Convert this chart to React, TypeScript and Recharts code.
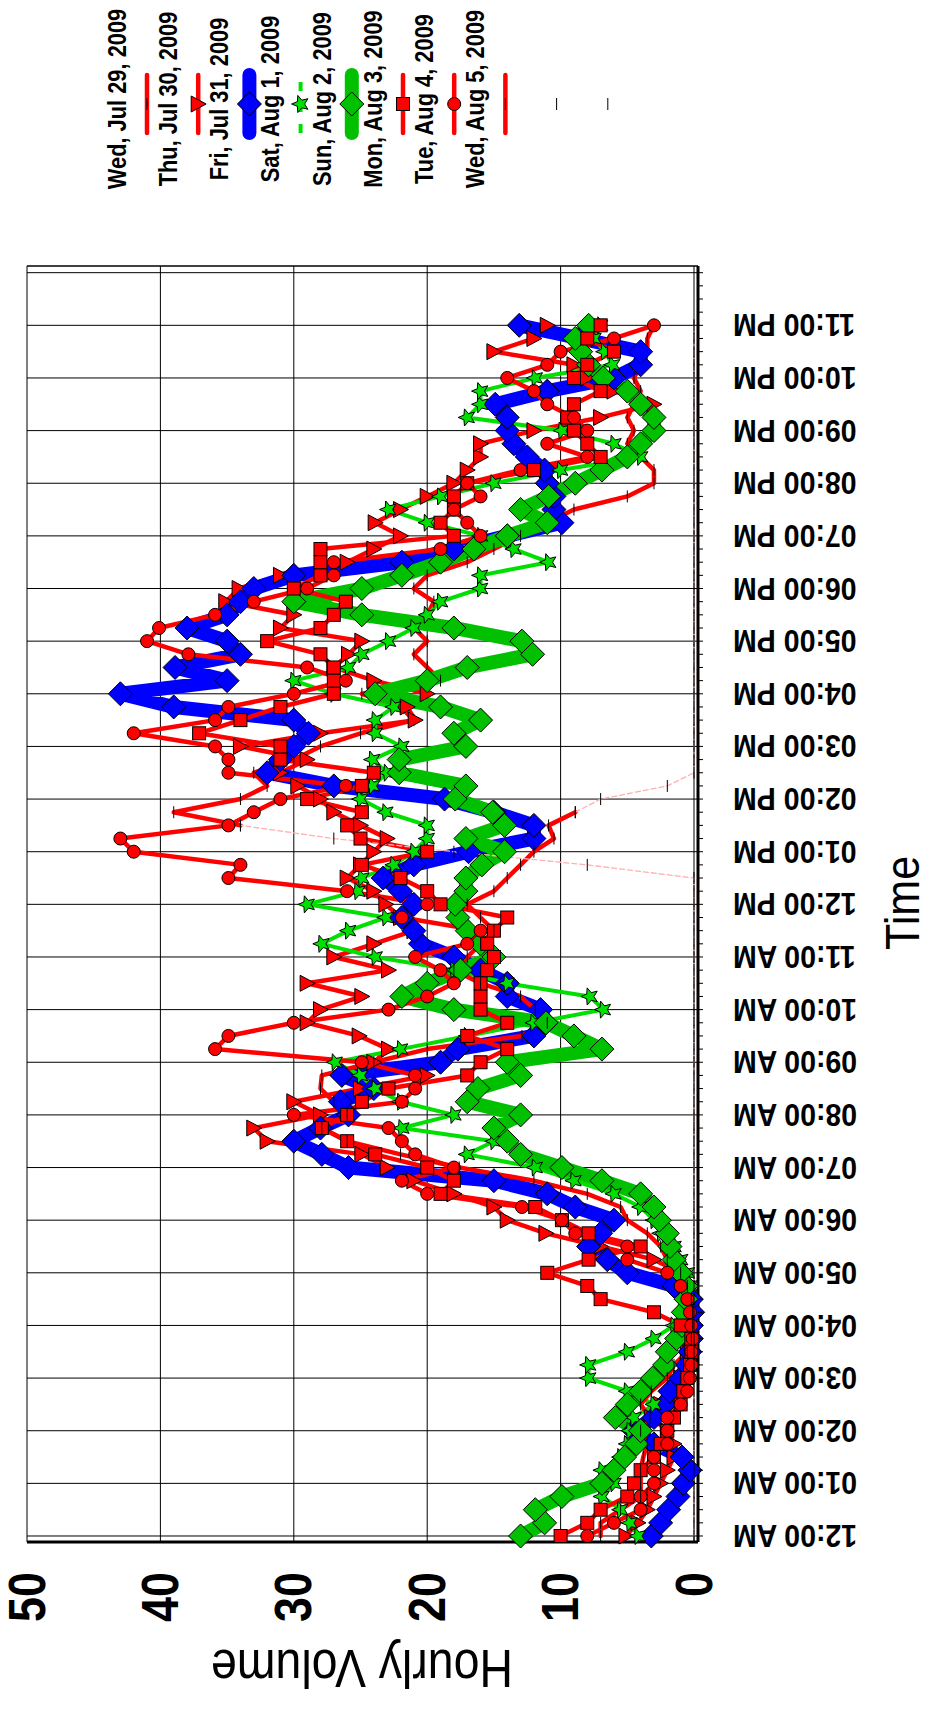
import React from "react";
import { CartesianGrid, Line, LineChart, ReferenceLine, XAxis, YAxis } from "recharts";

const FONT = "'Liberation Sans', Arial, Helvetica, sans-serif";

// readings every 15 minutes, 12:00 AM .. 11:00 PM
const quarterHours = Array.from({ length: 93 }, (_, i) => i / 4);
const axisTicks = Array.from({ length: 97 }, (_, i) => i / 4);
const hourLines = [0, 1, 2, 3, 4, 5, 6, 7, 8, 9, 10, 11, 12, 13, 14, 15, 16, 17, 18, 19, 20, 21, 22, 23, 24];
const hourLabels = [
  "12:00 AM", "01:00 AM", "02:00 AM", "03:00 AM", "04:00 AM", "05:00 AM",
  "06:00 AM", "07:00 AM", "08:00 AM", "09:00 AM", "10:00 AM", "11:00 AM",
  "12:00 PM", "01:00 PM", "02:00 PM", "03:00 PM", "04:00 PM", "05:00 PM",
  "06:00 PM", "07:00 PM", "08:00 PM", "09:00 PM", "10:00 PM", "11:00 PM",
];
const valueTicks = [0, 10, 20, 30, 40, 50];
const dayNames = [
  "Wed, Jul 29, 2009", "Thu, Jul 30, 2009", "Fri, Jul 31, 2009", "Sat, Aug 1, 2009",
  "Sun, Aug 2, 2009", "Mon, Aug 3, 2009", "Tue, Aug 4, 2009", "Wed, Aug 5, 2009",
];

const gap = (n: number) => Array<number | null>(n).fill(null);

const wedJul29 = [
  ...gap(54),
  34.0, 39.0,
  34.0, 32.0, 33.0, 30.0,
  28.0, 25.0, 21.0, 22.0,
  24.9, 19.0, 20.0, 21.0,
  20.0, 21.0, 20.0, 19.5,
  21.0, 20.0, 17.0, 15.0,
  13.0, 11.0, 9.0, 5.0,
  3.0, 3.0, 4.0, 5.0,
  4.5, 5.0, 4.5, 4.0,
  4.5, 4.0, 3.5, 3.5,
  3.0,
];

const thuJul30 = [
  5.1, 4.2, 3.5, 3.0,
  2.5, 2.0, 1.5, 1.5,
  2.0, 3.2, 2.5, 1.5,
  1.0, 0.5, 0.5, 0.3,
  0.2, 0.2, 0.3, 0.5,
  1.0, 3.0, 7.0, 11.1,
  14.0, 15.0, 18.0, 21.0,
  23.0, 24.9, 32.0, 33.0,
  28.0, 30.0, 25.0, 20.0,
  24.0, 22.9, 25.1, 29.0,
  28.0, 24.9, 29.0, 22.9,
  27.0, 24.0, 21.0, 22.0,
  23.1, 24.0, 26.0, 25.0,
  24.0, 23.0, 25.0, 27.0,
  28.0, 29.7, 31.0, 29.0,
  34.0, 28.0, 20.9, 21.5,
  20.0, 24.0, 27.0, 25.9,
  24.9, 31.0, 30.0, 35.1,
  34.1, 31.0, 26.0, 24.0,
  22.0, 23.9, 22.0, 20.0,
  18.0, 17.0, 16.0, 16.0,
  12.0, 7.0, 3.0, 6.0,
  8.0, 9.0, 15.0, 12.0,
  11.0,
];

const friJul31 = [
  3.2, 2.5, 1.9, 1.2,
  0.8, 0.3, 0.9, 3.0,
  4.5, 3.0, 2.2, 1.8,
  1.0, 0.5, 0.3, 0.2,
  0.2, 0.1, 0.2, 1.5,
  5.0, 6.5, 7.9, 7.0,
  6.0, 8.9, 11.0, 15.0,
  25.9, 27.9, 30.0, 28.0,
  25.9, 26.5, 24.0, 26.4,
  19.0, 17.7, 12.0, 11.1,
  11.5, 14.0, 14.0, 16.0,
  18.0, 20.5, 21.0, 21.9,
  21.0, 22.0, 23.3, 21.0,
  16.9, 12.0, 12.0, 15.0,
  18.7, 27.0, 32.0, 31.0,
  30.0, 28.9, 30.0, 39.0,
  43.0, 35.0, 38.9, 34.0,
  35.0, 38.0, 35.0, 34.0,
  33.0, 30.0, 21.9, 18.0,
  14.0, 9.9, 10.5, 10.5,
  11.0, 11.2, 12.5, 13.5,
  14.0, 14.0, 14.9, 11.0,
  6.0, 4.0, 4.0, 8.5,
  13.1,
];

const satAug1 = [
  4.2, 4.8, 5.5, 6.9,
  6.0, 6.9, 5.5, 5.0,
  4.8, 4.5, 3.0, 5.0,
  7.9, 7.9, 5.0, 3.0,
  1.5, 0.8, 0.5, 0.3,
  0.5, 1.0, 1.5, 2.5,
  3.0, 4.0, 6.0, 9.0,
  11.9, 17.0, 15.0, 21.9,
  18.0, 22.0, 23.9, 25.0,
  26.9, 22.0, 17.0, 12.0,
  6.8, 7.8, 14.0, 18.0,
  23.9, 27.9, 25.9, 23.1,
  29.0, 25.2, 24.9, 22.5,
  21.0, 20.0, 20.0, 23.1,
  25.0, 24.1, 23.0, 24.1,
  21.9, 23.9, 23.9, 22.5,
  27.0, 30.0, 25.9, 24.9,
  22.9, 21.0, 20.0, 19.0,
  16.0, 16.0, 10.9, 13.5,
  16.0, 20.0, 22.9, 19.0,
  15.0, 10.0, 4.0, 6.0,
  9.9, 17.0, 16.0, 16.0,
  11.9, 6.1, 6.7, 7.5,
  7.0,
];

const sunAug2 = [
  13.0, 11.2, 11.9, 9.9,
  6.9, 6.0, 5.2, 4.3,
  4.0, 5.9, 5.0, 4.0,
  3.1, 2.2, 2.0, 1.3,
  0.9, 0.8, 0.6, 0.6,
  1.0, 1.5, 1.8, 2.0,
  2.6, 3.0, 4.0, 6.9,
  9.9, 13.0, 14.0, 15.0,
  13.0, 17.0, 16.2, 13.0,
  14.0, 6.9, 9.0, 11.1,
  18.0, 21.9, 20.0, 17.5,
  15.0, 16.0, 17.0, 17.7,
  17.9, 17.1, 17.1, 15.9,
  14.2, 17.1, 14.2, 15.1,
  17.9, 17.1, 22.1, 22.1,
  17.1, 18.0, 16.0, 19.0,
  23.9, 20.0, 17.0, 12.1,
  12.9, 18.0, 24.9, 30.0,
  24.9, 21.9, 19.0, 16.5,
  14.0, 11.0, 13.0, 10.9,
  8.9, 6.9, 5.0, 4.0,
  3.0, 3.0, 4.0, 5.0,
  6.8, 7.9, 8.5, 8.9,
  7.9,
];

const monAug3 = [
  10.0, 8.0, 7.0, 5.0,
  4.5, 4.0, 3.0, 2.5,
  2.0, 1.5, 1.0, 0.8,
  0.5, 0.3, 0.2, 0.2,
  1.0, 3.0, 7.0, 8.0,
  11.0, 7.9, 4.0, 7.9,
  9.9, 11.9, 19.0, 18.0,
  20.0, 23.9, 26.0, 27.9,
  26.0, 24.9, 22.9, 17.0,
  16.0, 14.0, 17.0, 14.0,
  16.0, 16.0, 16.0, 15.5,
  15.0, 15.5, 15.0, 14.0,
  19.0, 20.0, 22.0, 24.9,
  20.0, 25.0, 26.0, 24.9,
  29.0, 24.9, 24.0, 31.0,
  31.0, 37.1, 34.0, 31.0,
  27.0, 27.0, 27.0, 28.0,
  32.0, 28.0, 27.0, 26.1,
  30.0, 28.0, 28.0, 28.0,
  18.0, 19.0, 18.0, 18.0,
  17.0, 12.0, 7.0, 8.0,
  9.0, 9.5, 9.0, 7.0,
  9.0, 8.0, 6.0, 8.0,
  7.0,
];

const tueAug4 = [
  8.0, 6.0, 4.0, 4.0,
  3.0, 3.0, 3.0, 2.0,
  2.0, 2.0, 1.0, 0.5,
  0.3, 0.2, 0.2, 0.1,
  0.2, 0.3, 0.5, 1.0,
  2.0, 5.0, 5.0, 8.9,
  9.9, 12.9, 20.0, 21.9,
  18.0, 20.9, 21.9, 22.9,
  30.0, 21.9, 20.9, 20.9,
  24.9, 35.9, 34.9, 30.0,
  22.9, 20.0, 18.0, 19.0,
  20.9, 17.0, 16.0, 21.9,
  20.0, 26.0, 34.9, 34.0,
  42.0, 43.0, 34.9, 33.0,
  31.0, 26.1, 34.9, 34.9,
  35.9, 42.0, 35.9, 34.9,
  30.0, 26.1, 29.0, 37.9,
  41.0, 40.1, 35.9, 33.0,
  29.0, 27.0, 27.0, 19.0,
  16.0, 17.0, 18.0, 16.0,
  17.0, 13.0, 8.0, 11.0,
  8.0, 9.0, 11.0, 12.0,
  14.0, 11.0, 10.0, 6.0,
  3.0,
];

const wedAug5 = [
  7.0, 7.0, 5.5, 4.0,
  4.0, 4.0, 3.8, 3.5,
  4.0, 3.3, 4.0, 3.2,
  2.0, 1.5, 0.5, 0.2,
  0.1, 0.1, 0.2, 0.5,
  1.0, 2.0, 2.5, 3.5,
  5.0, 5.5, 8.0, 12.0,
  17.6, 22.0, 26.0, 27.9,
  26.0, 27.0, 28.0, 27.9,
  24.0, 20.0, 12.9, 11.0,
  11.9, 13.0, 16.0, 18.0,
  17.0, 16.0, 15.0, 16.0,
  17.0, 15.0, 14.0, 13.0,
  12.0, 10.5, 10.9, 8.9,
  ...gap(37),
];

// the two unnamed traces (faint pink)
const tailAug5 = [
  ...gap(55),
  8.9, 7.0, 2.0,
  0, 0, 0, 0, 0, 0, 0, 0, 0, 0, 0, 0, 0, 0, 0, 0, 0, 0,
  0, 0, 0, 0, 0, 0, 0, 0, 0, 0, 0, 0, 0, 0, 0, 0, 0,
];
const headJul29 = [
  0, 0, 0, 0, 0, 0, 0, 0, 0, 0, 0, 0, 0, 0, 0, 0, 0, 0, 0, 0,
  0, 0, 0, 0, 0, 0, 0, 0, 0, 0, 0, 0, 0, 0, 0, 0, 0, 0, 0, 0,
  0, 0, 0, 0, 0, 0, 0, 0, 0, 0, 0,
  8.0, 18.0, 27.0, 34.0,
  ...gap(38),
];

const rows = quarterHours.map((t, i) => ({
  t,
  wedJul29: wedJul29[i],
  thuJul30: thuJul30[i],
  friJul31: friJul31[i],
  satAug1: satAug1[i],
  sunAug2: sunAug2[i],
  monAug3: monAug3[i],
  tueAug4: tueAug4[i],
  wedAug5: wedAug5[i],
  tailAug5: tailAug5[i],
  headJul29: headJul29[i],
}));

type MarkerKind = "dash" | "triangle" | "diamond" | "star" | "square" | "circle";

type SeriesStyle = {
  key: string;
  name: string;
  color: string;
  width: number;
  marker: MarkerKind;
  legendLine: boolean;
  legendDash?: string;
  lineDash?: string;
};

const RED = "#ff0000";
const series: SeriesStyle[] = [
  { key: "wedJul29", name: dayNames[0], color: RED, width: 4.5, marker: "dash", legendLine: true },
  { key: "thuJul30", name: dayNames[1], color: RED, width: 4.5, marker: "triangle", legendLine: true },
  { key: "friJul31", name: dayNames[2], color: "#0000ff", width: 14, marker: "diamond", legendLine: true },
  { key: "satAug1", name: dayNames[3], color: "#00e000", width: 4, marker: "star", legendLine: true, legendDash: "9 12" },
  { key: "sunAug2", name: dayNames[4], color: "#00c000", width: 14, marker: "diamond", legendLine: true },
  { key: "monAug3", name: dayNames[5], color: RED, width: 4.5, marker: "square", legendLine: true },
  { key: "tueAug4", name: dayNames[6], color: RED, width: 4.5, marker: "circle", legendLine: true },
  { key: "wedAug5", name: dayNames[7], color: RED, width: 4.5, marker: "dash", legendLine: true },
  { key: "tailAug5", name: "", color: "#ffb0b0", width: 1.3, marker: "dash", legendLine: false, lineDash: "5 3" },
  { key: "headJul29", name: "", color: "#ffb0b0", width: 1.3, marker: "dash", legendLine: false, lineDash: "5 3" },
];

function starPoints(x: number, y: number, ro: number, ri: number) {
  const pts: string[] = [];
  for (let i = 0; i < 10; i++) {
    const r = i % 2 === 0 ? ro : ri;
    const a = -Math.PI / 2 + (i * Math.PI) / 5;
    pts.push(`${x + r * Math.cos(a)},${y + r * Math.sin(a)}`);
  }
  return pts.join(" ");
}

function Marker({ kind, x, y, fill }: { kind: MarkerKind; x: number; y: number; fill: string }) {
  const edge = { stroke: "#000", strokeWidth: 1 };
  switch (kind) {
    case "diamond":
      return <polygon points={`${x},${y - 12} ${x + 12},${y} ${x},${y + 12} ${x - 12},${y}`} fill={fill} {...edge} />;
    case "triangle":
      return <polygon points={`${x - 8},${y - 7} ${x + 8},${y - 7} ${x},${y + 8}`} fill={fill} {...edge} />;
    case "square":
      return <rect x={x - 6.5} y={y - 6.5} width={13} height={13} fill={fill} {...edge} />;
    case "circle":
      return <circle cx={x} cy={y} r={6.5} fill={fill} {...edge} />;
    case "star":
      return <polygon points={starPoints(x, y, 9, 4)} fill={fill} {...edge} />;
    default:
      return <line x1={x - 6} x2={x + 6} y1={y} y2={y} stroke="#000" strokeWidth={1} />;
  }
}

const makeDot = (s: SeriesStyle) => (p: any) => {
  if (p.value == null || p.cx == null || p.cy == null) return <g key={`${s.key}-${p.index}`} />;
  return (
    <g key={`${s.key}-${p.index}`}>
      <Marker kind={s.marker} x={p.cx} y={p.cy} fill={s.color} />
    </g>
  );
};

// the reference lettering is narrower than Arial, so squeeze it along the reading direction
function NarrowText(props: {
  x: number;
  y: number;
  angle?: number;
  squeeze: number;
  anchor: "start" | "middle" | "end";
  size: number;
  weight?: number;
  children: React.ReactNode;
}) {
  const { x, y, angle = 0, squeeze, anchor, size, weight = 400, children } = props;
  return (
    <text
      transform={`translate(${x} ${y}) rotate(${angle}) scale(${squeeze} 1)`}
      textAnchor={anchor}
      dominantBaseline="central"
      fontSize={size}
      fontWeight={weight}
      fontFamily={FONT}
      fill="#000"
    >
      {children}
    </text>
  );
}

function TimeTick(props: any) {
  const { x, y, payload } = props;
  const v = payload.value as number;
  const whole = Math.abs(v - Math.round(v)) < 1e-6;
  const label = whole && v < 24 ? hourLabels[Math.round(v)] : null;
  return (
    <g>
      <line x1={x} x2={x} y1={y} y2={y + 5} stroke="#000" strokeWidth={1} />
      {label && (
        <NarrowText x={x} y={y + 35} angle={-90} squeeze={0.92} anchor="end" size={31} weight={700}>
          {label}
        </NarrowText>
      )}
    </g>
  );
}

function ValueTick(props: any) {
  const { x, y, payload } = props;
  return (
    <NarrowText x={x} y={y} squeeze={0.88} anchor="end" size={51} weight={700}>
      {payload.value}
    </NarrowText>
  );
}

function LegendBlock() {
  return (
    <g>
      {series.map((s, k) => {
        const symY = 147 + 51.2 * k;
        const textY = symY - 30.5;
        return (
          <g key={s.key}>
            {s.name && (
              <NarrowText x={1612} y={textY} squeeze={0.84} anchor="middle" size={26} weight={700}>
                {s.name}
              </NarrowText>
            )}
            {s.legendLine && (
              <line
                x1={1578}
                x2={1636}
                y1={symY}
                y2={symY}
                stroke={s.color}
                strokeWidth={s.width}
                strokeLinecap={s.legendDash ? "butt" : "round"}
                strokeDasharray={s.legendDash}
              />
            )}
            <Marker kind={s.marker} x={1607} y={symY} fill={s.color} />
          </g>
        );
      })}
    </g>
  );
}

const W = 1711;
const H = 931;
const TIME_DOMAIN: [number, number] = [-0.114, 24.127];

export default function App() {
  return (
    <div style={{ position: "absolute", left: 0, top: 0, width: H, height: W, overflow: "hidden", background: "#fff" }}>
      <div
        style={{
          position: "absolute",
          left: 0,
          top: 0,
          width: W,
          height: H,
          transformOrigin: "0 0",
          transform: `translateY(${W}px) rotate(-90deg)`,
          background: "#fff",
        }}
      >
        <LineChart width={W} height={H} data={rows} margin={{ top: 27, right: 266, bottom: 83, left: 49 }}>
          <CartesianGrid vertical={false} stroke="#000" strokeWidth={1} />
          {hourLines.map((h) => (
            <ReferenceLine key={`g${h}`} x={h} stroke="#000" strokeWidth={1} />
          ))}
          <ReferenceLine x={TIME_DOMAIN[1]} stroke="#000" strokeWidth={1.5} />
          <XAxis
            dataKey="t"
            type="number"
            domain={TIME_DOMAIN}
            ticks={axisTicks}
            interval={0}
            height={150}
            tickSize={0}
            tickMargin={0}
            tickLine={false}
            tick={<TimeTick />}
            axisLine={{ stroke: "#000", strokeWidth: 3 }}
          />
          <YAxis
            type="number"
            domain={[-0.3, 50]}
            ticks={valueTicks}
            interval={0}
            width={120}
            tickSize={0}
            tickMargin={30}
            tickLine={false}
            axisLine={{ stroke: "#000", strokeWidth: 3 }}
            tick={<ValueTick />}
          />
          {series.map((s) => (
            <Line
              key={s.key}
              dataKey={s.key}
              name={s.name}
              type="linear"
              stroke={s.color}
              strokeWidth={s.width}
              strokeDasharray={s.lineDash}
              strokeLinejoin="round"
              strokeLinecap="round"
              dot={makeDot(s)}
              activeDot={false}
              isAnimationActive={false}
              connectNulls={false}
            />
          ))}
        </LineChart>
        <svg width={W} height={H} style={{ position: "absolute", left: 0, top: 0, pointerEvents: "none" }}>
          <NarrowText x={42} y={362} angle={-90} squeeze={0.86} anchor="middle" size={54}>
            Hourly Volume
          </NarrowText>
          <NarrowText x={808} y={902} squeeze={0.88} anchor="middle" size={49}>
            Time
          </NarrowText>
          <LegendBlock />
        </svg>
      </div>
    </div>
  );
}
